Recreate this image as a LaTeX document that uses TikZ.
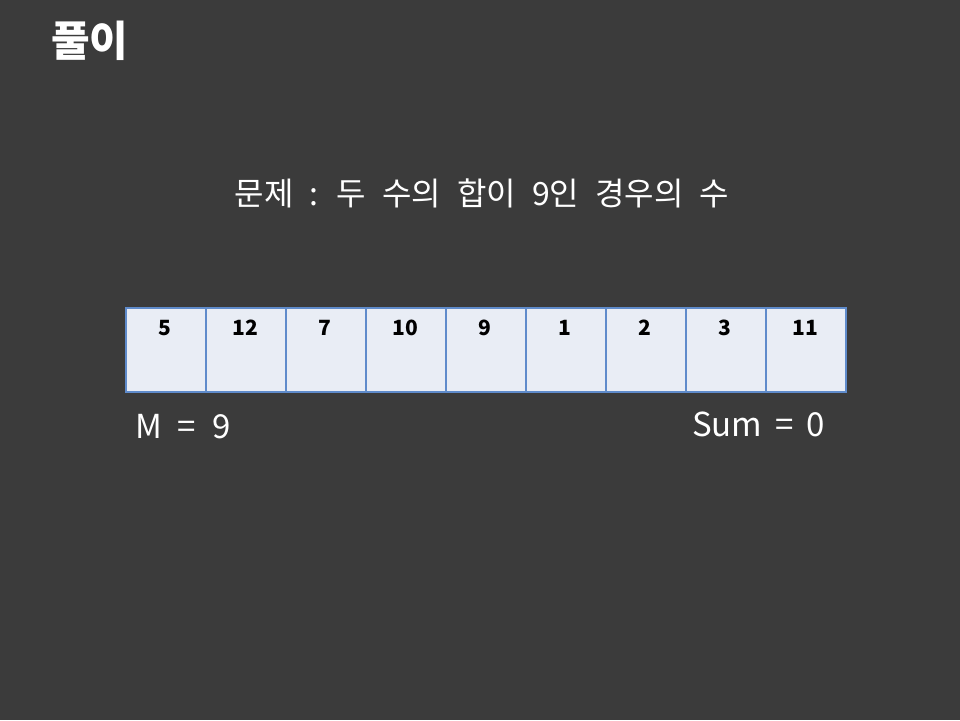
\documentclass[tikz,border=0pt]{standalone}
\usepackage{fontspec}
\setmainfont{Noto Sans CJK KR}
\definecolor{bgc}{HTML}{3B3B3B}
\definecolor{cellfill}{HTML}{E9EDF5}
\definecolor{cellline}{HTML}{5F8BCB}
\begin{document}
\begin{tikzpicture}[x=1pt,y=-1pt,
  cellbox/.style={draw=cellline,fill=cellfill,line width=1.6pt,minimum width=80pt,minimum height=84pt,inner sep=0pt,anchor=north west},
  celltext/.style={font=\fontsize{21}{24}\selectfont\bfseries,text=black},
  wtext/.style={text=white,inner sep=0pt}]
\fill[bgc] (0,0) rectangle (960,720);
\useasboundingbox (0,0) rectangle (960,720);
\node[wtext,font=\fontsize{42}{48}\selectfont\bfseries,anchor=west] (title) at (51,41) {풀이};
\node[wtext,font=\fontsize{32}{36}\selectfont,anchor=center] (sub) at (482,193) {\spaceskip=16pt 문제 : 두 수의 합이 9인 경우의 수};
\foreach \v [count=\i from 0] in {5,12,7,10,9,1,2,3,11}{
  \node[cellbox] (c\i) at (125+80*\i,307) {};
  \node[celltext] (t\i) at (165+80*\i,328) {\v};
}
\node[wtext,font=\fontsize{33}{38}\selectfont,anchor=base west] (m) at (135,438) {\spaceskip=16pt M = 9};
\node[wtext,font=\fontsize{33}{38}\selectfont,anchor=base west] (s) at (692,436) {\spaceskip=13pt Sum = 0};
\end{tikzpicture}
\end{document}
